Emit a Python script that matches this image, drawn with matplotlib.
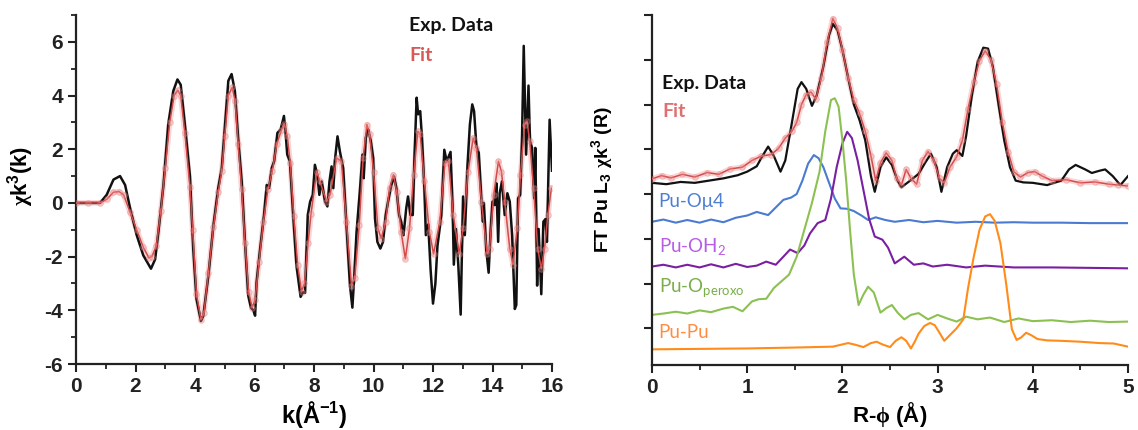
import matplotlib
matplotlib.use("Agg")
import matplotlib.pyplot as plt
from matplotlib.ticker import MultipleLocator

# ---------------- data: left panel (chi(k)k^3) ----------------
k_exp = [0, 0.4, 0.81, 1.03, 1.26, 1.48, 1.65, 1.82, 2.04, 2.26, 2.52, 2.66, 2.77, 2.94, 3.1, 3.27,
         3.41, 3.52, 3.66, 3.83, 3.94, 4.05, 4.2, 4.28, 4.45, 4.62, 4.78, 4.9, 5.01, 5.12, 5.23,
         5.34, 5.45, 5.57, 5.68, 5.79, 5.88, 5.96, 6.02, 6.07, 6.19, 6.32, 6.41, 6.49, 6.58, 6.66,
         6.77, 6.88, 6.99, 7.05, 7.1, 7.19, 7.3, 7.41, 7.55, 7.63, 7.7, 7.79, 7.87, 7.96, 8.03,
         8.11, 8.18, 8.26, 8.37, 8.45, 8.52, 8.59, 8.65, 8.7, 8.79, 8.87, 8.98, 9.07, 9.15, 9.21,
         9.29, 9.35, 9.43, 9.54, 9.63, 9.67, 9.74, 9.82, 9.91, 9.99, 10.05, 10.13, 10.23, 10.32,
         10.41, 10.49, 10.6, 10.69, 10.77, 10.86, 10.93, 11.01, 11.1, 11.16, 11.24, 11.32, 11.38,
         11.45, 11.5, 11.57, 11.63, 11.71, 11.76, 11.84, 11.92, 12.0, 12.08, 12.15, 12.28, 12.38,
         12.46, 12.59, 12.66, 12.7, 12.77, 12.85, 12.93, 13.01, 13.07, 13.16, 13.24, 13.32, 13.38,
         13.46, 13.54, 13.63, 13.68, 13.71, 13.79, 13.87, 13.94, 14.0, 14.08, 14.13, 14.19, 14.24,
         14.32, 14.41, 14.5, 14.58, 14.66, 14.75, 14.8, 14.86, 14.93, 14.99, 15.05, 15.13, 15.21,
         15.26, 15.33, 15.4, 15.44, 15.5, 15.55, 15.64, 15.71, 15.78, 15.83, 15.92, 16.0]
chi_exp = [0, 0, 0, 0.3, 0.87, 1.0, 0.67, -0.2, -1.2, -1.95, -2.45, -2.1, -1.08, 0.67, 2.92, 4.17,
           4.6, 4.4, 2.92, 1.0, -1.7, -3.58, -4.4, -4.2, -2.7, -0.83, 0.55, 1.3, 2.92, 4.55, 4.8,
           4.17, 2.42, 0.8, -1.45, -3.45, -3.9, -4.0, -4.2, -2.95, -1.7, -0.45, 0.67, 0.55, 1.3, 1.55,
           2.61, 2.74, 3.24, 2.55, 1.8, 1.55, -0.45, -2.33, -3.5, -3.33, -3.35, -0.45, 0.05, 0.3, 1.42,
           1.05, 0.3, 0.8, 0.05, -0.13, 0.8, 1.36, 0.55, 1.55, 2.48, 1.92, 1.3, -0.45, -1.95, -3.08,
           -3.9, -2.8, -1.08, 0.42, 1.8, 0.92, 2.42, 2.74, 2.3, 1.67, -0.58, -1.45, -1.7, -1.45,
           -0.45, 0.05, 0.67, 0.98, 0.55, -0.45, -0.7, -1.2, -0.2, 0.24, -0.45, -0.45, 1.8,
           3.92, 3.3, 3.42, 2.42, 0.55, -1.2, -0.8, -2.5, -3.75, -3.0, -1.6, -0.45, 1.98,
           1.55, 1.9, -0.2, -2.3, -0.97, -2.3, -4.16, 0.24, -1.2, 1.42, 2.92, 3.67, 3.42,
           2.1, 1.86, 0.05, -0.7, 0.0, -1.75, -2.6, -0.97, 0.05, -0.08, 0.73, -1.45, 0.36,
           0.8, -0.45, 0.36, 0.05, -1.2, -3.95, -3.8, 0.17, 0.3, 2.3, 5.85, 1.8, 4.37,
           2.3, 2.05, 0.17, 2.05, -3.08, -0.97, -3.4, -0.7, -0.6, -1.45, 3.1, 1.2]

k_fit = [0, 0.4, 0.8, 1.03, 1.26, 1.45, 1.6, 1.82, 2.04, 2.26, 2.45, 2.55, 2.7, 2.85, 3.0, 3.15,
         3.3, 3.42, 3.52, 3.66, 3.83, 3.92, 4.05, 4.2, 4.3, 4.45, 4.62, 4.78, 4.9, 5.0, 5.12, 5.25,
         5.35, 5.45, 5.57, 5.68, 5.8, 5.92, 6.02, 6.15, 6.3, 6.45, 6.6, 6.75, 6.9, 7.0, 7.1, 7.2,
         7.32, 7.45, 7.58, 7.68, 7.8, 7.9, 8.09, 8.2, 8.42, 8.54, 8.76, 8.92, 9.09, 9.26, 9.37,
         9.52, 9.65, 9.78, 9.87, 10.0, 10.15, 10.26, 10.41, 10.54, 10.67, 10.78, 10.93, 11.07,
         11.21, 11.35, 11.49, 11.57, 11.71, 11.88, 12.02, 12.23, 12.4, 12.52, 12.68, 12.88, 13.01,
         13.18, 13.35, 13.46, 13.63, 13.82, 13.9, 14.04, 14.2, 14.3, 14.41, 14.58, 14.69, 14.83,
         14.94, 15.08, 15.16, 15.25, 15.38, 15.52, 15.64, 15.75, 15.86, 15.98]
chi_fit = [0, 0, 0, 0.13, 0.4, 0.42, 0.3, -0.35, -1.0, -1.65, -2.05, -2.0, -1.6, -0.3, 1.3, 3.0,
           4.0, 4.2, 4.0, 2.6, 0.6, -1.0, -3.4, -4.35, -4.1, -2.6, -0.9, 0.4, 1.2, 2.5, 4.0, 4.3,
           3.8, 2.2, 0.5, -1.5, -3.3, -3.9, -3.6, -2.2, -0.7, 0.5, 1.2, 2.2, 2.7, 2.95, 2.5, 1.5,
           -0.5, -2.3, -3.3, -3.0, -1.5, -0.4, 1.17, 0.8, 0.05, 0.3, 1.67, 1.55, -0.7, -3.08, -2.8,
           -0.83, 1.67, 2.92, 2.55, 1.17, -0.95, -1.33, -0.7, 0.55, 1.05, 0.42, -1.08, -2.08,
           -0.95, 1.05, 2.67, 2.55, 0.8, -1.08, -1.9, -0.7, 1.48, 1.55, -0.45, -1.9, -0.95,
           1.17, 2.42, 2.05, 0.05, -1.9, -1.7, 0.3, 1.55, 1.17, 0.05, -1.7, -2.3, -0.95,
           1.05, 2.92, 3.05, 2.3, 0.55, -1.7, -2.45, -1.7, -0.45, 0.55]

# ---------------- data: right panel (FT magnitude, offset curves) ----------------
R_exp = [0, 0.15, 0.3, 0.45, 0.6, 0.75, 0.9, 1.0, 1.1, 1.16, 1.22, 1.28, 1.35, 1.4, 1.47, 1.53, 1.57,
         1.62, 1.68, 1.73, 1.8, 1.86, 1.9, 1.95, 2.0, 2.06, 2.12, 2.18, 2.24, 2.3, 2.34, 2.4, 2.46,
         2.52, 2.58, 2.62, 2.7, 2.8, 2.87, 2.93, 2.99, 3.04, 3.1, 3.16, 3.2, 3.26, 3.3, 3.36, 3.42,
         3.48, 3.53, 3.58, 3.64, 3.7, 3.76, 3.82, 3.9, 4.0, 4.15, 4.3, 4.38, 4.45, 4.55, 4.62, 4.7,
         4.76, 4.84, 4.92, 5.0]
ft_exp = [3.25, 3.22, 3.27, 3.25, 3.3, 3.35, 3.42, 3.5, 3.62, 3.85, 4.06, 3.85, 3.5, 3.75, 4.6, 5.35,
          5.5, 5.35, 4.97, 5.2, 5.85, 6.55, 6.8, 6.65, 6.22, 5.6, 5.0, 4.65, 4.2, 3.4, 3.05, 3.6,
          3.82, 3.65, 3.3, 3.15, 3.28, 3.45, 3.7, 3.9, 3.6, 3.05, 3.6, 3.9, 3.98, 3.85, 4.3, 5.2,
          5.95, 6.27, 6.25, 5.85, 5.0, 4.2, 3.6, 3.3, 3.26, 3.25, 3.2, 3.3, 3.55, 3.65, 3.55, 3.47,
          3.52, 3.55, 3.4, 3.2, 3.4]

R_fit = [0, 0.1, 0.2, 0.32, 0.45, 0.58, 0.7, 0.82, 0.95, 1.05, 1.15, 1.25, 1.33, 1.4, 1.47, 1.52,
         1.57, 1.62, 1.67, 1.72, 1.78, 1.84, 1.9, 1.95, 2.0, 2.06, 2.12, 2.18, 2.24, 2.3, 2.35, 2.4,
         2.46, 2.52, 2.57, 2.62, 2.67, 2.72, 2.78, 2.84, 2.9, 2.96, 3.02, 3.07, 3.13, 3.2, 3.26,
         3.32, 3.38, 3.44, 3.5, 3.56, 3.62, 3.68, 3.74, 3.8, 3.87, 3.95, 4.02, 4.1, 4.2, 4.35, 4.5,
         4.65, 4.8, 4.9, 5.0]
ft_fit = [3.34, 3.41, 3.36, 3.44, 3.38, 3.48, 3.44, 3.56, 3.6, 3.75, 3.85, 3.88, 4.02, 4.25, 4.4, 4.6,
          5.0, 5.22, 5.28, 5.12, 5.6, 6.4, 6.92, 6.7, 6.22, 5.6, 5.1, 4.8, 4.4, 3.85, 3.3, 3.7,
          3.92, 3.75, 3.35, 3.2, 3.55, 3.35, 3.22, 3.75, 3.95, 3.75, 3.35, 3.25, 3.6, 3.83, 4.2,
          4.9, 5.5, 5.98, 6.2, 6.0, 5.45, 4.6, 3.95, 3.5, 3.38, 3.48, 3.5, 3.4, 3.3, 3.32, 3.25,
          3.27, 3.22, 3.2, 3.18]

R_omu4 = [0, 0.12, 0.25, 0.37, 0.5, 0.62, 0.75, 0.88, 1.0, 1.1, 1.22, 1.3, 1.38, 1.46, 1.52, 1.58,
          1.64, 1.7, 1.75, 1.8, 1.86, 1.92, 1.98, 2.05, 2.12, 2.2, 2.27, 2.35, 2.45, 2.55, 2.7,
          2.85, 3.0, 3.2, 3.4, 3.6, 3.8, 4.0, 4.3, 4.6, 5.0]
ft_omu4 = [2.38, 2.43, 2.36, 2.42, 2.36, 2.43, 2.37, 2.47, 2.52, 2.6, 2.53, 2.7, 2.87, 2.92, 3.0,
           3.3, 3.68, 3.87, 3.8, 3.6, 3.25, 2.9, 2.68, 2.67, 2.62, 2.52, 2.42, 2.48, 2.42, 2.38,
           2.42, 2.37, 2.4, 2.36, 2.38, 2.36, 2.37, 2.36, 2.36, 2.35, 2.35]

R_oh2 = [0, 0.12, 0.25, 0.37, 0.5, 0.62, 0.75, 0.88, 1.0, 1.1, 1.2, 1.3, 1.38, 1.45, 1.53, 1.6,
         1.66, 1.74, 1.82, 1.88, 1.94, 2.0, 2.05, 2.1, 2.16, 2.22, 2.28, 2.34, 2.42, 2.48, 2.55,
         2.65, 2.75, 2.85, 2.95, 3.1, 3.3, 3.5, 3.8, 4.2, 4.6, 5.0]
ft_oh2 = [1.38, 1.42, 1.36, 1.42, 1.36, 1.43, 1.36, 1.44, 1.37, 1.4, 1.49, 1.42, 1.6, 1.76, 1.68,
          1.85, 2.12, 2.35, 2.42, 2.9, 3.6, 4.13, 4.39, 4.25, 3.75, 3.1, 2.45, 2.05, 1.98, 1.8,
          1.45, 1.6, 1.42, 1.45, 1.38, 1.42, 1.36, 1.4, 1.36, 1.36, 1.35, 1.34]

R_operoxo = [0, 0.12, 0.25, 0.37, 0.5, 0.62, 0.75, 0.85, 0.95, 1.05, 1.12, 1.2, 1.28, 1.36, 1.44,
             1.52, 1.6, 1.68, 1.76, 1.82, 1.88, 1.92, 1.96, 2.0, 2.04, 2.08, 2.12, 2.17, 2.22,
             2.27, 2.33, 2.4, 2.46, 2.52, 2.58, 2.65, 2.72, 2.8, 2.9, 3.0, 3.1, 3.2, 3.3, 3.42,
             3.55, 3.7, 3.85, 4.0, 4.2, 4.4, 4.6, 4.8, 5.0]
ft_operoxo = [0.3, 0.33, 0.37, 0.33, 0.4, 0.36, 0.44, 0.48, 0.38, 0.6, 0.65, 0.66, 0.9, 1.05, 1.2,
              1.6, 2.2, 2.8, 3.5, 4.4, 5.1, 5.14, 4.95, 4.2, 3.3, 2.2, 1.2, 0.52, 0.75, 0.93, 0.8,
              0.35, 0.45, 0.52, 0.35, 0.2, 0.3, 0.34, 0.2, 0.3, 0.22, 0.15, 0.26, 0.2, 0.24, 0.14,
              0.22, 0.16, 0.18, 0.14, 0.17, 0.14, 0.15]

R_pupu = [0, 0.5, 1.0, 1.5, 1.9, 2.0, 2.06, 2.14, 2.22, 2.3, 2.36, 2.42, 2.5, 2.56, 2.62, 2.67, 2.72,
          2.76, 2.8, 2.86, 2.92, 2.97, 3.02, 3.07, 3.13, 3.2, 3.27, 3.32, 3.38, 3.44, 3.5, 3.55,
          3.6, 3.66, 3.72, 3.78, 3.83, 3.88, 3.93, 3.98, 4.05, 4.15, 4.3, 4.5, 4.7, 4.85, 5.0]
ft_pupu = [-0.47, -0.46, -0.45, -0.43, -0.41, -0.36, -0.33, -0.37, -0.42, -0.33, -0.3, -0.36, -0.42,
           -0.28, -0.2, -0.28, -0.45, -0.3, -0.12, 0.05, 0.12, 0.07, -0.1, -0.28, -0.15, 0.0, 0.2,
           0.9, 1.6, 2.2, 2.5, 2.55, 2.4, 1.9, 1.0, -0.02, -0.26, -0.2, -0.1, -0.15, -0.24, -0.27,
           -0.28, -0.3, -0.33, -0.34, -0.41]

component_labels = ["Pu-O\u03bc4", r"Pu-OH$_\mathsf{2}$", r"Pu-O$_\mathsf{peroxo}$", "Pu-Pu"]
component_label_y = [2.83, 1.82, 0.9, -0.1]

# ---------------- style ----------------
plt.rcParams['font.family'] = ['Liberation Sans', 'DejaVu Sans']
plt.rcParams['mathtext.fontset'] = 'custom'
plt.rcParams['mathtext.rm'] = 'Liberation Sans:bold'
plt.rcParams['mathtext.bf'] = 'Liberation Sans:bold'
plt.rcParams['mathtext.it'] = 'Liberation Serif:bold'
plt.rcParams['mathtext.sf'] = 'Lato'
plt.rcParams['mathtext.default'] = 'rm'

BLACK = '#111111'
FIT_LINE = '#D24A4A'
FIT_BAND = (0.95, 0.55, 0.55, 0.35)
FIT_FACE = (0.96, 0.62, 0.62, 0.30)
FIT_EDGE = (0.90, 0.45, 0.45, 0.40)
C_BLUE = '#4A7BD0'
C_PURPLE = '#7A1FA2'
C_GREEN = '#8CC152'
C_ORANGE = '#FF8C1A'
L_BLUE = '#4F7FD3'
L_PURPLE = '#B85BE6'
L_GREEN = '#7AAE4A'
L_ORANGE = '#FF8C40'

fig = plt.figure(figsize=(11.38, 4.30), dpi=100)
ax1 = fig.add_axes([76 / 1138, 66 / 430, (552 - 76) / 1138, (364 - 15) / 430])
ax2 = fig.add_axes([652 / 1138, 65 / 430, (1128 - 652) / 1138, (365 - 15) / 430])

for ax in (ax1, ax2):
    for s in ('top', 'right'):
        ax.spines[s].set_visible(False)
    for s in ('left', 'bottom'):
        ax.spines[s].set_linewidth(1.6)
        ax.spines[s].set_color('#222222')
    ax.tick_params(which='major', direction='out', length=6, width=1.5, colors='#222222',
                   labelsize=15)
    ax.tick_params(which='minor', direction='out', length=3.5, width=1.3, colors='#222222')


def draw_fit(ax, x, y):
    ax.plot(x, y, color=FIT_BAND, lw=4, solid_capstyle='round', zorder=2)
    ax.plot(x, y, color=FIT_LINE, lw=1.1, marker='o', ms=4, mfc=FIT_FACE, mec=FIT_EDGE,
            mew=0.8, zorder=4)


# ---- left panel ----
ax1.plot(k_exp, chi_exp, color=BLACK, lw=1.8, zorder=3)
draw_fit(ax1, k_fit, chi_fit)
ax1.set_xlim(0, 16)
ax1.set_ylim(-6, 7)
ax1.xaxis.set_minor_locator(MultipleLocator(1))
ax1.yaxis.set_minor_locator(MultipleLocator(1))
ax1.set_yticks([-6, -4, -2, 0, 2, 4, 6])
ax1.set_yticklabels(['-6', '-4', '-2', '0', '2', '4', '6'], fontweight='bold', fontsize=15)
ax1.set_xticks(range(0, 17, 2))
ax1.set_xticklabels([str(v) for v in range(0, 17, 2)], fontweight='bold', fontsize=15)
ax1.set_xlabel('k(Å$^{\\mathbf{-1}}$)', fontsize=17, fontweight='bold', labelpad=2)
ax1.set_ylabel(r'$\mathit{\chi}$k$^\mathbf{3}$(k)', fontsize=16, fontweight='bold')
ax1.yaxis.set_label_coords(-0.083, 0.54)
ax1.text(11.2, 6.62, 'Exp. Data', color='#111111', fontsize=14, fontweight='bold',
         family='Lato', va='center', ha='left')
ax1.text(11.2, 5.5, 'Fit', color='#D85858', fontsize=14, fontweight='bold',
         family='Lato', va='center', ha='left')

# ---- right panel ----
ax2.plot(R_exp, ft_exp, color=BLACK, lw=1.6, zorder=3)
draw_fit(ax2, R_fit, ft_fit)
ax2.plot(R_omu4, ft_omu4, color=C_BLUE, lw=1.5)
ax2.plot(R_oh2, ft_oh2, color=C_PURPLE, lw=1.5)
ax2.plot(R_operoxo, ft_operoxo, color=C_GREEN, lw=1.5)
ax2.plot(R_pupu, ft_pupu, color=C_ORANGE, lw=1.5)
ax2.set_xlim(0, 5)
ax2.set_ylim(-0.82, 7.0)
ax2.xaxis.set_minor_locator(MultipleLocator(0.5))
ax2.set_yticks(range(0, 8))
ax2.set_yticklabels([])
ax2.set_xticks(range(0, 6))
ax2.set_xticklabels([str(v) for v in range(0, 6)], fontweight='bold', fontsize=15)
ax2.set_xlabel(r'R-$\mathit{\phi}$ (Å)', fontsize=16, fontweight='bold', labelpad=2)
ax2.set_ylabel(r'FT Pu L$_\mathbf{3}$ $\mathit{\chi}$k$^\mathbf{3}$ (R)', fontsize=14,
               fontweight='bold')
ax2.yaxis.set_label_coords(-0.077, 0.53)
ax2.text(0.11, 5.47, 'Exp. Data', color='#111111', fontsize=14, fontweight='bold',
         family='Lato', va='center', ha='left')
ax2.text(0.11, 4.84, 'Fit', color='#E07070', fontsize=14, fontweight='bold',
         family='Lato', va='center', ha='left')
for lab, yy, col in zip(component_labels, component_label_y, [L_BLUE, L_PURPLE, L_GREEN, L_ORANGE]):
    ax2.text(0.07, yy, lab, color=col, fontsize=13.5, family='Lato', va='center', ha='left')

fig.savefig('out.png', dpi=100)
